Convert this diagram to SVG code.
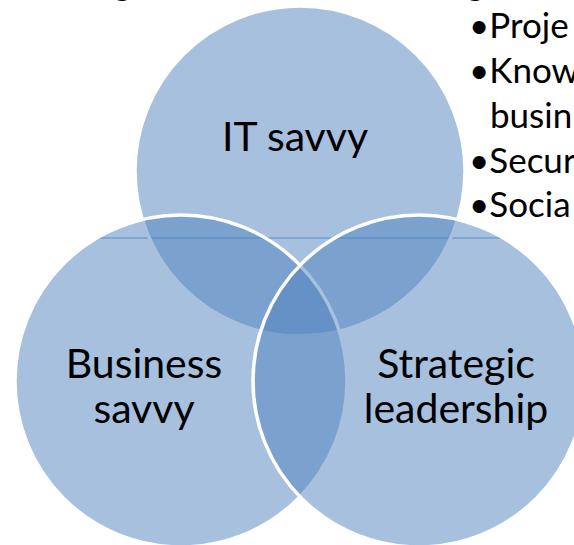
<svg xmlns="http://www.w3.org/2000/svg" width="574" height="545" viewBox="0 0 574 545">
  <style>
    .venn { fill: #4F81BD; fill-opacity: 0.5; stroke: #FFFFFF; stroke-width: 3.5; }
    .label { font-family: Lato, "Liberation Sans", sans-serif; font-size: 41px; fill: #000000; text-anchor: middle; }
    .bullet { font-family: Lato, "Liberation Sans", sans-serif; font-size: 35px; fill: #000000; }
  </style>
  <rect x="0" y="0" width="574" height="545" fill="#FFFFFF"/>
  <g id="title-clipped">
    <text class="bullet" x="113" y="-5">g</text>
    <text class="bullet" x="466" y="-5">g</text>
  </g>
  <g id="guide-line">
    <line x1="97" y1="238" x2="503" y2="238" stroke="#5B9BD5" stroke-width="1"/>
  </g>
  <g id="it-savvy">
    <circle class="venn" cx="300" cy="171" r="165"/>
    <text class="label" x="295" y="151">IT savvy</text>
  </g>
  <g id="business-savvy">
    <circle class="venn" cx="181" cy="381" r="166"/>
    <text class="label" x="144" y="378">Business</text>
    <text class="label" x="144" y="423">savvy</text>
  </g>
  <g id="strategic-leadership">
    <circle class="venn" cx="419" cy="381" r="166"/>
    <text class="label" x="456" y="378">Strategic</text>
    <text class="label" x="456" y="423">leadership</text>
  </g>
  <g id="bullets">
    <text class="bullet" x="469" y="38">•Proje</text>
    <text class="bullet" x="469" y="83">•Know</text>
    <text class="bullet" x="490" y="128">busin</text>
    <text class="bullet" x="469" y="173">•Secur</text>
    <text class="bullet" x="469" y="217">•Socia</text>
  </g>
</svg>
